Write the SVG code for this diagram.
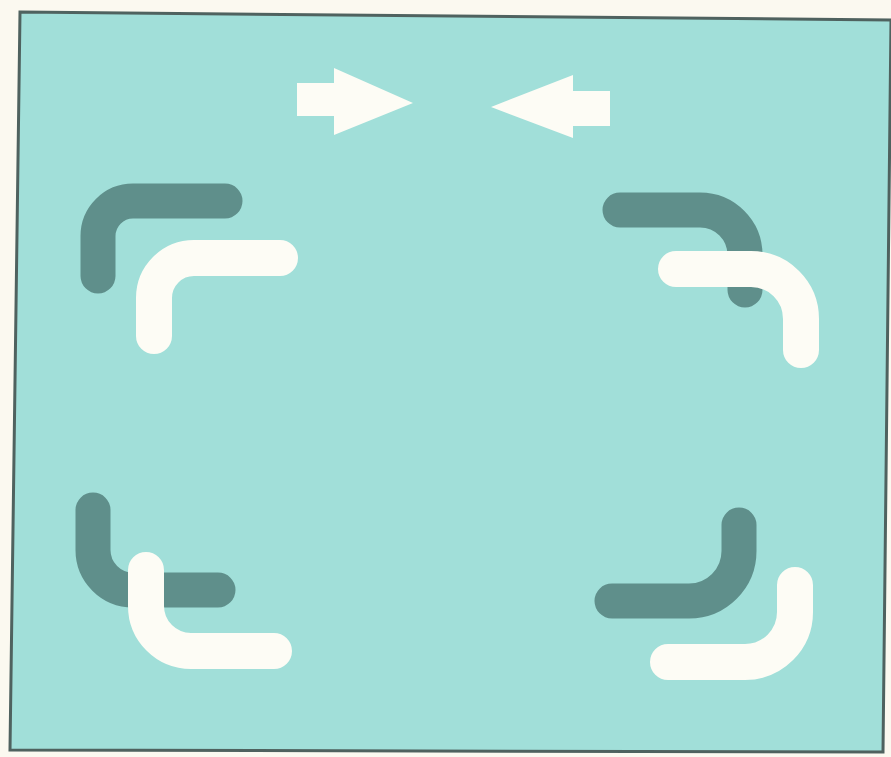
<svg xmlns="http://www.w3.org/2000/svg" width="891" height="757" viewBox="0 0 891 757">
<style>
.dark{fill:none;stroke:#5f8f8b;stroke-width:35;stroke-linecap:round;stroke-linejoin:round}
.light{fill:none;stroke:#fdfcf5;stroke-width:36;stroke-linecap:round;stroke-linejoin:round}
.arrow{fill:#fdfcf5}
</style>
<rect x="0" y="0" width="891" height="757" fill="#fbf9f0"/>
<polygon points="20,12 891,20 883,752 10,750" fill="#a1dfd9" stroke="#4f625f" stroke-width="3"/>
<g id="arrow-right">
<polygon class="arrow" points="297,83 334,83 334,68 413,103 334,135 334,116 297,116"/>
</g>
<g id="arrow-left">
<polygon class="arrow" points="610,91 573,91 573,75 491,107 573,138 573,126 610,126"/>
</g>
<g id="corner-top-left">
<path class="dark" d="M98 276 V236 A35 35 0 0 1 133 201 H225"/>
<path class="light" d="M154 336 V298 A40 40 0 0 1 194 258 H280"/>
</g>
<g id="corner-top-right">
<path class="dark" d="M620 210 H700 A45 45 0 0 1 745 255 V290"/>
<path class="light" d="M676 269 H751 A50 50 0 0 1 801 319 V350"/>
</g>
<g id="corner-bottom-left">
<path class="dark" d="M93 510 V550 A40 40 0 0 0 133 590 H218"/>
<path class="light" d="M146 570 V606 A45 45 0 0 0 191 651 H274"/>
</g>
<g id="corner-bottom-right">
<path class="dark" d="M739 525 V551 A50 50 0 0 1 689 601 H612"/>
<path class="light" d="M795 585 V612 A50 50 0 0 1 745 662 H668"/>
</g>
</svg>
